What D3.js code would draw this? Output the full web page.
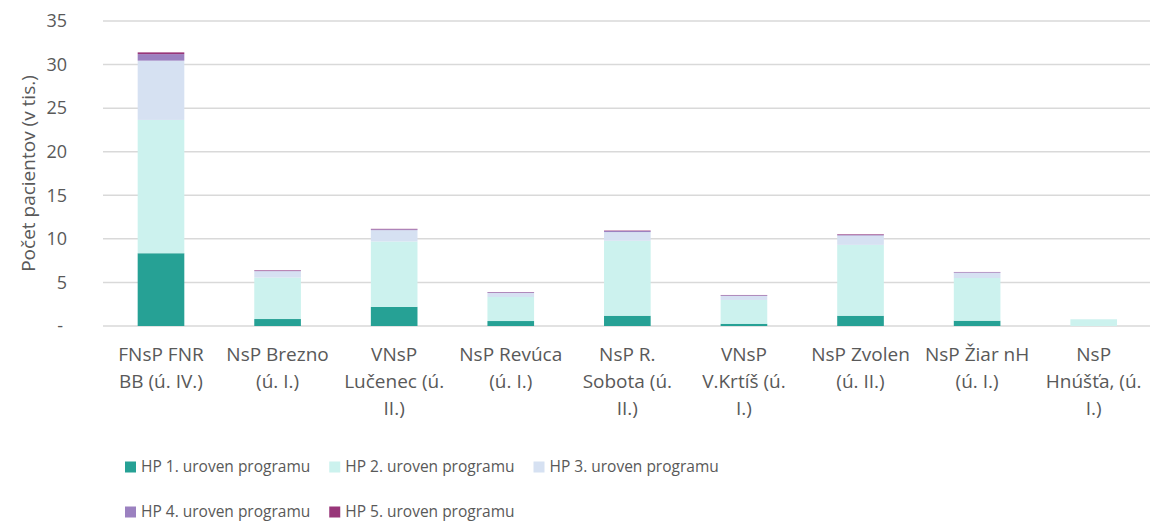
<!DOCTYPE html>
<html>
<head>
<meta charset="utf-8">
<script src="https://cdn.jsdelivr.net/npm/d3@7"></script>
<style>
  body { margin: 0; background: #fff; }
  text { font-family: "Open Sans", sans-serif; fill: #595959; }
</style>
</head>
<body>
<div id="chart"></div>
<script>
// Data
var categories = ["FNsP FNR BB (ú. IV.)", "NsP Brezno (ú. I.)", "VNsP Lučenec (ú. II.)", "NsP Revúca (ú. I.)",
  "NsP R. Sobota (ú. II.)", "VNsP V.Krtíš (ú. I.)", "NsP Zvolen (ú. II.)", "NsP Žiar nH (ú. I.)", "NsP Hnúšťa, (ú. I.)"];
// Nhan truc x da ngat dong nhu trong hinh goc
var categoryLines = [
  ["FNsP FNR", "BB (ú. IV.)"],
  ["NsP Brezno", "(ú. I.)"],
  ["VNsP", "Lučenec (ú.", "II.)"],
  ["NsP Revúca", "(ú. I.)"],
  ["NsP R.", "Sobota (ú.", "II.)"],
  ["VNsP", "V.Krtíš (ú.", "I.)"],
  ["NsP Zvolen", "(ú. II.)"],
  ["NsP Žiar nH", "(ú. I.)"],
  ["NsP", "Hnúšťa, (ú.", "I.)"]
];
var seriesNames = ["HP 1. uroven programu", "HP 2. uroven programu", "HP 3. uroven programu",
  "HP 4. uroven programu", "HP 5. uroven programu"];
var hp1 = [8.35, 0.8, 2.2, 0.57, 1.18, 0.26, 1.18, 0.61, 0];
var hp2 = [15.3, 4.76, 7.5, 2.76, 8.6, 2.73, 8.13, 4.9, 0.77];
var hp3 = [6.8, 0.73, 1.3, 0.46, 1.0, 0.46, 1.07, 0.6, 0];
var hp4 = [0.75, 0.07, 0.1, 0.08, 0.12, 0.08, 0.1, 0.07, 0];
var hp5 = [0.2, 0.05, 0.05, 0.03, 0.05, 0.03, 0.06, 0.02, 0];
var yTicks = [0, 5, 10, 15, 20, 25, 30, 35];

var colors = ["#26a195", "#ccf2ee", "#d6e1f2", "#9b81c0", "#983679"];

var width = 1150, height = 525;

var svg = d3.select("#chart").append("svg")
  .attr("width", width)
  .attr("height", height);

// Bang du lieu cho stack
var table = categories.map(function(c, i) {
  return { cat: c, s0: hp1[i], s1: hp2[i], s2: hp3[i], s3: hp4[i], s4: hp5[i] };
});
var keys = ["s0", "s1", "s2", "s3", "s4"];
var stacked = d3.stack().keys(keys)(table);

// Scale
var x = d3.scaleBand()
  .domain(categories)
  .range([102.7, 1152])
  .padding(0);

var y = d3.scaleLinear()
  .domain([0, 35])
  .range([326, 21]);

// Luoi ngang
svg.append("g").selectAll("line")
  .data(yTicks)
  .enter().append("line")
  .attr("x1", 103)
  .attr("x2", width)
  .attr("y1", function(d) { return y(d); })
  .attr("y2", function(d) { return y(d); })
  .attr("stroke", "#d9d9d9")
  .attr("stroke-width", 1.5);

// Nhan truc y
svg.append("g").selectAll("text")
  .data(yTicks)
  .enter().append("text")
  .attr("x", function(d) { return d === 0 ? 63 : 67; })
  .attr("y", function(d) { return y(d); })
  .attr("dy", "0.35em")
  .attr("text-anchor", "end")
  .attr("font-size", "18px")
  .text(function(d) { return d === 0 ? "-" : d; });

// Ten truc y
svg.append("text")
  .attr("transform", "translate(28," + ((y(0) + y(35)) / 2) + ") rotate(-90)")
  .attr("text-anchor", "middle")
  .attr("dy", "0.35em")
  .attr("font-size", "19px")
  .text("Počet pacientov (v tis.)");

// Cot chong
var barW = x.bandwidth() * 0.4;
svg.append("g").selectAll("g")
  .data(stacked)
  .enter().append("g")
  .attr("fill", function(d, i) { return colors[i]; })
  .selectAll("rect")
  .data(function(d) { return d; })
  .enter().append("rect")
  .attr("x", function(d) { return x(d.data.cat) + (x.bandwidth() - barW) / 2; })
  .attr("y", function(d) { return y(d[1]); })
  .attr("width", barW)
  .attr("height", function(d) { return Math.max(0, y(d[0]) - y(d[1])); });

// Nhan truc x
svg.append("g").selectAll("text")
  .data(categories)
  .enter().append("text")
  .attr("x", function(d) { return x(d) + x.bandwidth() / 2; })
  .attr("y", 361)
  .attr("text-anchor", "middle")
  .attr("font-size", "19px")
  .each(function(d, i) {
    var t = d3.select(this);
    var cx = t.attr("x");
    categoryLines[i].forEach(function(line, j) {
      t.append("tspan")
        .attr("x", cx)
        .attr("dy", j === 0 ? 0 : "27px")
        .text(line);
    });
  });

// Chu thich
var rows = [[0, 1, 2], [3, 4]];
var rowY = [467, 512];
rows.forEach(function(row, r) {
  var cx = 125;
  row.forEach(function(i) {
    var g = svg.append("g").attr("transform", "translate(" + cx + "," + rowY[r] + ")");
    g.append("rect")
      .attr("x", 0).attr("y", -5.5)
      .attr("width", 11).attr("height", 11)
      .attr("fill", colors[i]);
    var t = g.append("text")
      .attr("x", 16)
      .attr("dy", "0.35em")
      .attr("font-size", "15.5px")
      .text(seriesNames[i]);
    cx += 16 + t.node().getComputedTextLength() + 19;
  });
});
</script>
</body>
</html>
